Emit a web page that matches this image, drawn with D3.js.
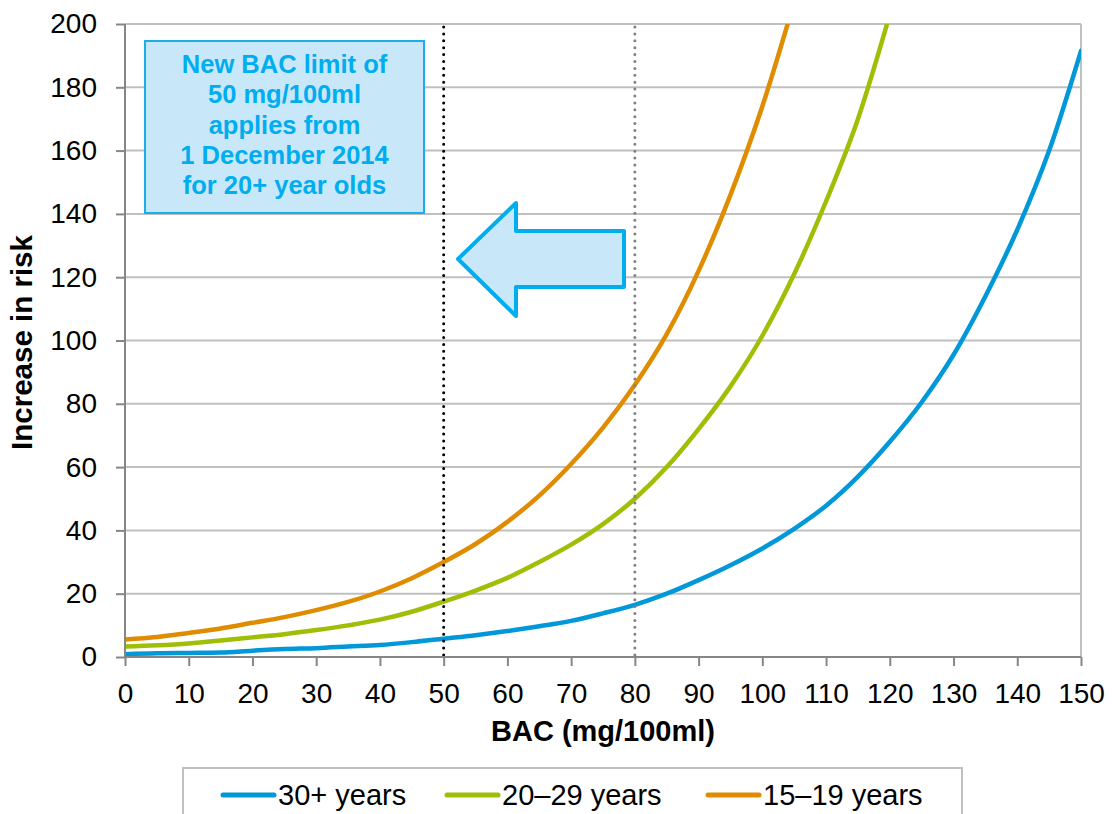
<!DOCTYPE html>
<html>
<head>
<meta charset="utf-8">
<script src="https://cdn.jsdelivr.net/npm/d3@7"></script>
<style>
  html, body { margin: 0; padding: 0; background: #fff; }
  svg { display: block; font-family: "Liberation Sans", Arial, sans-serif; }
</style>
</head>
<body>
<svg id="chart" width="1112" height="814"></svg>
<script>
// ---- data ----
const bac = [0,5,10,15,20,25,30,35,40,45,50,55,60,65,70,75,80,85,90,95,100,105,110,115,120,125,130,135,140,145,150];
const risk30plus = [0.9,1.2,1.3,1.4,2.0,2.5,2.8,3.3,3.8,4.7,5.8,6.9,8.2,9.7,11.4,13.8,16.5,20,24.3,29,34.3,40.5,47.8,57,68,80.5,95.5,114,135,160,191.5];
const risk20to29 = [3.3,3.7,4.3,5.2,6.2,7.2,8.5,10,11.8,14.3,17.5,21,25,30,35.5,42,50,60,72,85.5,101.5,121,144,170,203];
const risk15to19 = [5.5,6.3,7.6,9,10.8,12.6,14.8,17.4,20.7,24.9,30,35.7,42.7,51,61,72.5,86,102,122,146,174,207];
const seriesNames = ["30+ years", "20\u201329 years", "15\u201319 years"];
const xTicks = [0,10,20,30,40,50,60,70,80,90,100,110,120,130,140,150];
const yTicks = [0,20,40,60,80,100,120,140,160,180,200];
const limitLines = [50, 80];
const noteLines = ["New BAC limit of", "50 mg/100ml", "applies from", "1 December 2014", "for 20+ year olds"];
const xTitle = "BAC (mg/100ml)";
const yTitle = "Increase in risk";

// ---- layout ----
const svg = d3.select("#chart");
const L = 125, R = 1081, T = 24, B = 657;
const x = d3.scaleLinear().domain([0,150]).range([L,R]);
const y = d3.scaleLinear().domain([0,200]).range([B,T]);
const colors = ["#0098D8", "#9FBE06", "#E08C00"];
const gridColor = "#C0C0C0", axisColor = "#868686";

// gridlines
svg.append("g").selectAll("line").data(yTicks.filter(d => d > 0)).join("line")
  .attr("x1", L).attr("x2", R).attr("y1", d => y(d)).attr("y2", d => y(d))
  .attr("stroke", gridColor).attr("stroke-width", 2);
// right border
svg.append("line").attr("x1", R).attr("x2", R).attr("y1", T).attr("y2", B)
  .attr("stroke", gridColor).attr("stroke-width", 2);

// annotation box
const boxG = svg.append("g");
boxG.append("rect").attr("x", 145).attr("y", 41).attr("width", 279).attr("height", 172)
  .attr("fill", "#C8E8FA").attr("stroke", "#1AAFEA").attr("stroke-width", 2);
boxG.selectAll("text").data(noteLines).join("text")
  .attr("x", 284.5).attr("y", (d,i) => 73 + i*30.3)
  .attr("text-anchor", "middle").attr("font-weight", "bold").attr("font-size", 25.5)
  .attr("fill", "#00ADEF").text(d => d);

// arrow
svg.append("path")
  .attr("d", "M458,259 L516,203 L516,231 L624,231 L624,287 L516,287 L516,316 Z")
  .attr("fill", "#C8E8FA").attr("stroke", "#00ADEF").attr("stroke-width", 4)
  .attr("stroke-linejoin", "round");

// curves
svg.append("clipPath").attr("id", "clip").append("rect")
  .attr("x", L).attr("y", T).attr("width", R - L).attr("height", B - T);
const line = d3.line().x(d => x(d[0])).y(d => y(d[1])).curve(d3.curveMonotoneX);
const allSeries = [risk30plus, risk20to29, risk15to19];
svg.append("g").attr("clip-path", "url(#clip)").selectAll("path").data(allSeries).join("path")
  .attr("d", s => line(s.map((v,i) => [bac[i], v])))
  .attr("fill", "none").attr("stroke", (d,i) => colors[i]).attr("stroke-width", 4.5)
  .attr("stroke-linejoin", "round").attr("stroke-linecap", "round");

// dotted reference lines
svg.append("g").selectAll("line").data(limitLines).join("line")
  .attr("x1", d => x(d)).attr("x2", d => x(d)).attr("y1", T + 3).attr("y2", B)
  .attr("stroke", (d,i) => i === 0 ? "#000" : "#808080").attr("stroke-width", 3)
  .attr("stroke-linecap", "round").attr("stroke-dasharray", "0,6.9");

// axes
const yAxis = svg.append("g").attr("transform", `translate(${L},0)`)
  .call(d3.axisLeft(y).tickValues(yTicks).tickSize(9).tickPadding(19).tickFormat(d3.format("d")));
const xAxis = svg.append("g").attr("transform", `translate(0,${B})`)
  .call(d3.axisBottom(x).tickValues(xTicks).tickSize(9).tickPadding(17).tickFormat(d3.format("d")));
[yAxis, xAxis].forEach(a => {
  a.select(".domain").attr("stroke", axisColor).attr("stroke-width", 2);
  a.selectAll(".tick line").attr("stroke", axisColor).attr("stroke-width", 2);
  a.selectAll(".tick text").attr("font-size", 28).attr("fill", "#000")
    .attr("font-family", "Liberation Sans, Arial, sans-serif");
});
yAxis.select(".domain").attr("d", `M0,${B}V${T}`);
xAxis.select(".domain").attr("d", `M${L},0H${R}`);

// axis titles
svg.append("text").attr("x", (L + R) / 2).attr("y", 741).attr("text-anchor", "middle")
  .attr("font-weight", "bold").attr("font-size", 29).text(xTitle);
svg.append("text").attr("transform", `translate(32,${(T + B) / 2 + 2}) rotate(-90)`)
  .attr("text-anchor", "middle").attr("font-weight", "bold").attr("font-size", 29.5).text(yTitle);

// legend
svg.append("rect").attr("x", 183).attr("y", 768).attr("width", 779).attr("height", 60)
  .attr("fill", "#fff").attr("stroke", gridColor).attr("stroke-width", 2);
const legX = [223, 447, 708];
const leg = svg.append("g").selectAll("g").data(seriesNames).join("g")
  .attr("transform", (d,i) => `translate(${legX[i]},795)`);
leg.append("line").attr("x1", 0).attr("x2", 51).attr("y1", 0).attr("y2", 0)
  .attr("stroke", (d,i) => colors[i]).attr("stroke-width", 5).attr("stroke-linecap", "round");
leg.append("text").attr("x", 55).attr("y", 10).attr("font-size", 29).attr("fill", "#000").text(d => d);
</script>
</body>
</html>
